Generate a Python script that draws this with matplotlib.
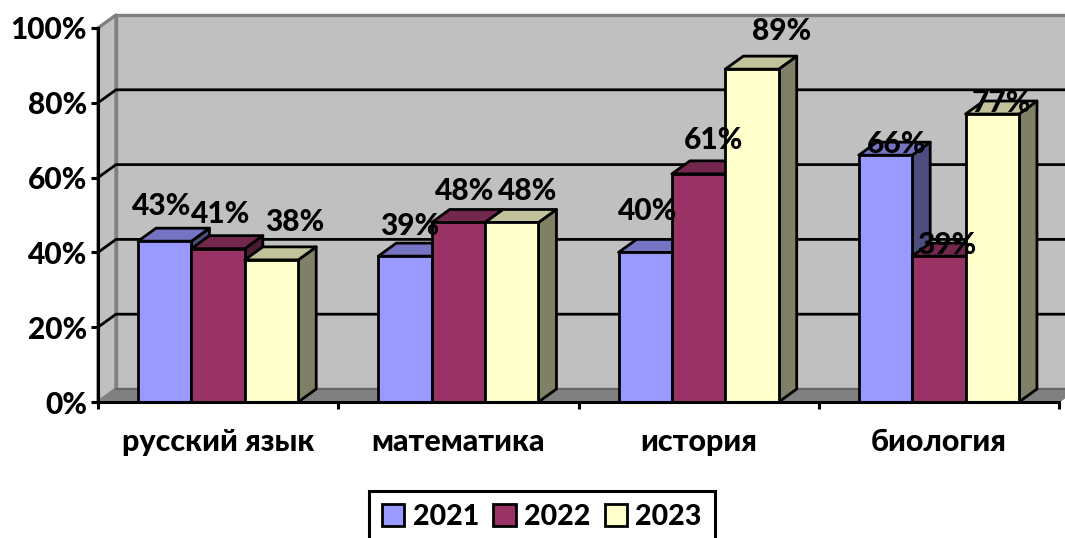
import numpy as np
import matplotlib
matplotlib.use("Agg")
import matplotlib.pyplot as plt
from matplotlib.patches import Polygon
from matplotlib.colors import to_rgb

categories = ["русский язык", "математика", "история", "биология"]
years = ["2021", "2022", "2023"]
values_2021 = [43, 39, 40, 66]
values_2022 = [41, 48, 61, 39]
values_2023 = [38, 48, 89, 77]
y_ticks = [0, 20, 40, 60, 80, 100]
colors = ["#9999FF", "#993366", "#FFFFCC"]

# сдвиг подписей относительно центра верха столбца (в пикселях)
label_dx = [[-3, 3, 23], [5, 6, 16], [2, 15, 30], [11, 8, 9]]
label_dy = [[35, 35, 38], [30, 31, 31], [41, 34, 38], [11, 11, 11]]

FS = 21.5
plt.rcParams["font.family"] = ["Lato", "Open Sans", "DejaVu Sans"]
plt.rcParams["font.weight"] = 900

W, H = 1065, 538
fig = plt.figure(figsize=(W / 100, H / 100), dpi=100)
ax = fig.add_axes([98 / W, (H - 402) / H, 961 / W, 374 / H])
ax.set_xlim(0, 4)
ax.set_ylim(0, 100)

# глубина псевдо-3D в единицах данных
dx = 18 / (961 / 4)
dy = 13 / 3.74
px_x = 4 / 961
px_y = 100 / 374
LW = 2.0


def poly(pts, fc, ec="k", lw=LW, z=2):
    p = Polygon(pts, closed=True, facecolor=fc, edgecolor=ec, linewidth=lw,
                zorder=z, clip_on=False, joinstyle="round")
    ax.add_patch(p)


# стены и пол
poly([(0, 0), (dx, dy), (4 + dx, dy), (4, 0)], "#808080", ec="#808080", lw=1, z=1)
poly([(dx, dy), (dx, 100 + dy), (4.3, 100 + dy), (4.3, dy)], "#C0C0C0", ec="#808080", lw=2.4, z=1)
poly([(0, 0), (0, 100), (dx, 100 + dy), (dx, dy)], "#C0C0C0", ec="#808080", lw=2.4, z=1)

# сетка
for t in y_ticks[1:-1]:
    ax.plot([0, dx, 4.3], [t, t + dy, t + dy], color="k", lw=2.0, zorder=1.5, clip_on=False)
ax.plot([dx, 4 + dx], [dy, dy], color="#666666", lw=1.5, zorder=1.5, clip_on=False)

series = [values_2021, values_2022, values_2023]
gap = 1 / 6
bar_w = 2 / 9
handles = []
for c in range(len(categories)):
    for s, vals in enumerate(series):
        v = vals[c]
        x0 = c + gap + s * bar_w
        x1 = x0 + bar_w
        rgb = np.array(to_rgb(colors[s]))
        poly([(x1, 0), (x1 + dx, dy), (x1 + dx, v + dy), (x1, v)], rgb * 0.5, z=3 + c * 3 + s * 3)
        poly([(x0, v), (x0 + dx, v + dy), (x1 + dx, v + dy), (x1, v)], rgb * 0.76, z=3 + c * 3 + s * 3)
        b = ax.bar(x0, v, bar_w, align="edge", color=colors[s], edgecolor="k", linewidth=LW,
                   zorder=3 + c * 3 + s * 3 + 1, clip_on=False)
        if c == 0:
            handles.append(b[0])
        ax.text((x0 + x1) / 2 + label_dx[c][s] * px_x, v + label_dy[c][s] * px_y, f"{v}%",
                ha="center", va="center", fontsize=FS, color="k", zorder=100)

for sp in ["top", "right"]:
    ax.spines[sp].set_visible(False)
for sp in ["left", "bottom"]:
    ax.spines[sp].set_linewidth(2.2)
    ax.spines[sp].set_zorder(60)

ax.set_yticks(y_ticks)
ax.set_yticklabels([f"{t}%" for t in y_ticks], fontsize=FS)
ax.set_xticks(range(5))
ax.set_xticklabels([])
ax.tick_params(axis="y", length=5, width=2.2, pad=3)
ax.tick_params(axis="x", length=5, width=2.2)
ax.set_xticks(np.arange(4) + 0.5, minor=True)
ax.set_xticklabels(categories, minor=True, fontsize=22)
ax.tick_params(axis="x", which="minor", length=0, pad=19)

leg = ax.legend(handles, years, loc="upper center", bbox_to_anchor=(542 / W, 1 - 491 / H),
                bbox_transform=fig.transFigure, ncol=3, fontsize=20.5, frameon=True, fancybox=False,
                edgecolor="k", framealpha=1, borderaxespad=0, handlelength=0.78, handleheight=0.78,
                handletextpad=0.3, columnspacing=0.5, borderpad=0.45)
leg.get_frame().set_linewidth(2.2)

fig.savefig("out.png", dpi=100)
